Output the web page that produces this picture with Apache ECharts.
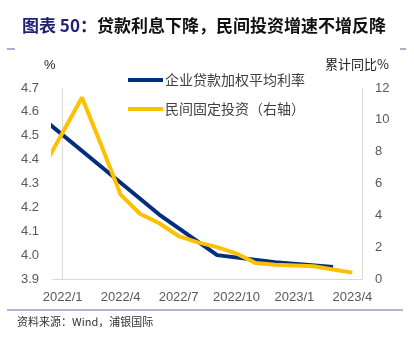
<!DOCTYPE html>
<html>
<head>
<meta charset="utf-8">
<script src="https://cdn.jsdelivr.net/npm/echarts@6/dist/echarts.min.js"></script>
<style>
html,body{margin:0;padding:0;background:#fff;}
#c{width:414px;height:337px;}
</style>
</head>
<body>
<div id="c"></div>
<script>
// months; index 0 = 2021/12 (lies just left of the visible axis, clipped)
var months = ['2021/12','2022/1','2022/2','2022/3','2022/4','2022/5','2022/6','2022/7','2022/8','2022/9','2022/10','2022/11','2022/12','2023/1','2023/2','2023/3','2023/4'];
// 企业贷款加权平均利率 (%), quarterly
var loanRate = [4.57, null, null, 4.37, null, null, 4.17, null, null, 4.00, null, null, 3.97, null, null, 3.95, null];
// 民间固定投资 累计同比 (%), right axis
var privateInv = [7.0, null, 11.4, 8.4, 5.3, 4.1, 3.5, 2.7, 2.3, 2.0, 1.6, 1.0, 0.9, null, 0.8, 0.6, 0.4];
var xTickLabels = ['2022/1','2022/4','2022/7','2022/10','2023/1','2023/4'];
var seriesNames = ['企业贷款加权平均利率','民间固定投资（右轴）'];

function toPairs(arr){
  var out = [];
  for (var i = 0; i < arr.length; i++) {
    if (arr[i] !== null) out.push([i - 1, arr[i]]);
  }
  return out;
}
var tickPos = xTickLabels.map(function(l){ return months.indexOf(l) - 1; });

var chart = echarts.init(document.getElementById('c'));
var labelColor = '#595959';
var axisColor = '#D9D9D9';
chart.setOption({
  animation: false,
  grid: {left: 53, right: 52, top: 88, bottom: 58},
  title: {
    left: 17, top: 12,
    text: '{a|图表 50：}{b|贷款利息下降，民间投资增速不增反降}',
    textStyle: {
      rich: {
        a: {fontSize: 17, fontWeight: 'bold', color: '#1F1F78', fontFamily: 'Noto Sans CJK SC'},
        b: {fontSize: 17, fontWeight: 'bold', color: '#111111', fontFamily: 'Noto Sans CJK SC'}
      }
    }
  },
  legend: {
    orient: 'vertical',
    left: 123, top: 68,
    itemWidth: 35, itemHeight: 4,
    itemGap: 15,
    icon: 'rect',
    textStyle: {fontSize: 14, color: '#404040', fontFamily: 'Noto Sans CJK SC', padding: [0,0,0,-3]},
    data: seriesNames
  },
  xAxis: {
    type: 'value',
    min: -0.5, max: 15.5,
    axisLine: {show: true, lineStyle: {color: axisColor, width: 1}},
    axisTick: {show: false},
    splitLine: {show: false},
    axisLabel: {
      customValues: tickPos,
      margin: 12,
      fontSize: 13,
      color: labelColor,
      fontFamily: 'Liberation Sans',
      formatter: function(v){ return months[Math.round(v) + 1]; }
    }
  },
  yAxis: [{
    type: 'value',
    min: 3.9, max: 4.7, interval: 0.1,
    axisLine: {show: true, lineStyle: {color: axisColor}},
    axisTick: {show: false},
    splitLine: {show: false},
    axisLabel: {
      margin: 14, fontSize: 13, color: labelColor, fontFamily: 'Liberation Sans',
      formatter: function(v){ return v.toFixed(1); }
    }
  }, {
    type: 'value',
    min: 0, max: 12, interval: 2,
    position: 'right',
    axisLine: {show: true, lineStyle: {color: axisColor}},
    axisTick: {show: false},
    splitLine: {show: false},
    axisLabel: {margin: 13, fontSize: 13, color: labelColor, fontFamily: 'Liberation Sans'}
  }],
  series: [{
    name: seriesNames[0],
    type: 'line',
    yAxisIndex: 0,
    data: toPairs(loanRate),
    showSymbol: false,
    symbol: 'none',
    lineStyle: {color: '#002D80', width: 4},
    itemStyle: {color: '#002D80'},
    clip: true
  }, {
    name: seriesNames[1],
    type: 'line',
    yAxisIndex: 1,
    data: toPairs(privateInv),
    showSymbol: false,
    symbol: 'none',
    lineStyle: {color: '#FFC000', width: 4},
    itemStyle: {color: '#FFC000'},
    clip: true
  }],
  graphic: [
    {type: 'line', shape: {x1: 7, y1: 49, x2: 15, y2: 49}, style: {stroke: '#5B5B9A', lineWidth: 1}},
    {type: 'line', shape: {x1: 400, y1: 49, x2: 406, y2: 49}, style: {stroke: '#5B5B9A', lineWidth: 1}},
    {type: 'line', shape: {x1: 7, y1: 310, x2: 403, y2: 310}, style: {stroke: '#6A64A8', lineWidth: 1}},
    {type: 'text', left: 44, top: 59, style: {text: '%', fontSize: 13, fill: '#222', fontFamily: 'Liberation Sans'}},
    {type: 'text', left: 325, top: 58, style: {text: '累计同比%', fontSize: 13, fill: '#222', fontFamily: 'Noto Sans CJK SC'}},
    {type: 'text', left: 17, top: 316, style: {text: '资料来源：Wind，浦银国际', fontSize: 11, fill: '#333', fontFamily: 'Noto Sans CJK SC'}}
  ]
});
</script>
</body>
</html>
